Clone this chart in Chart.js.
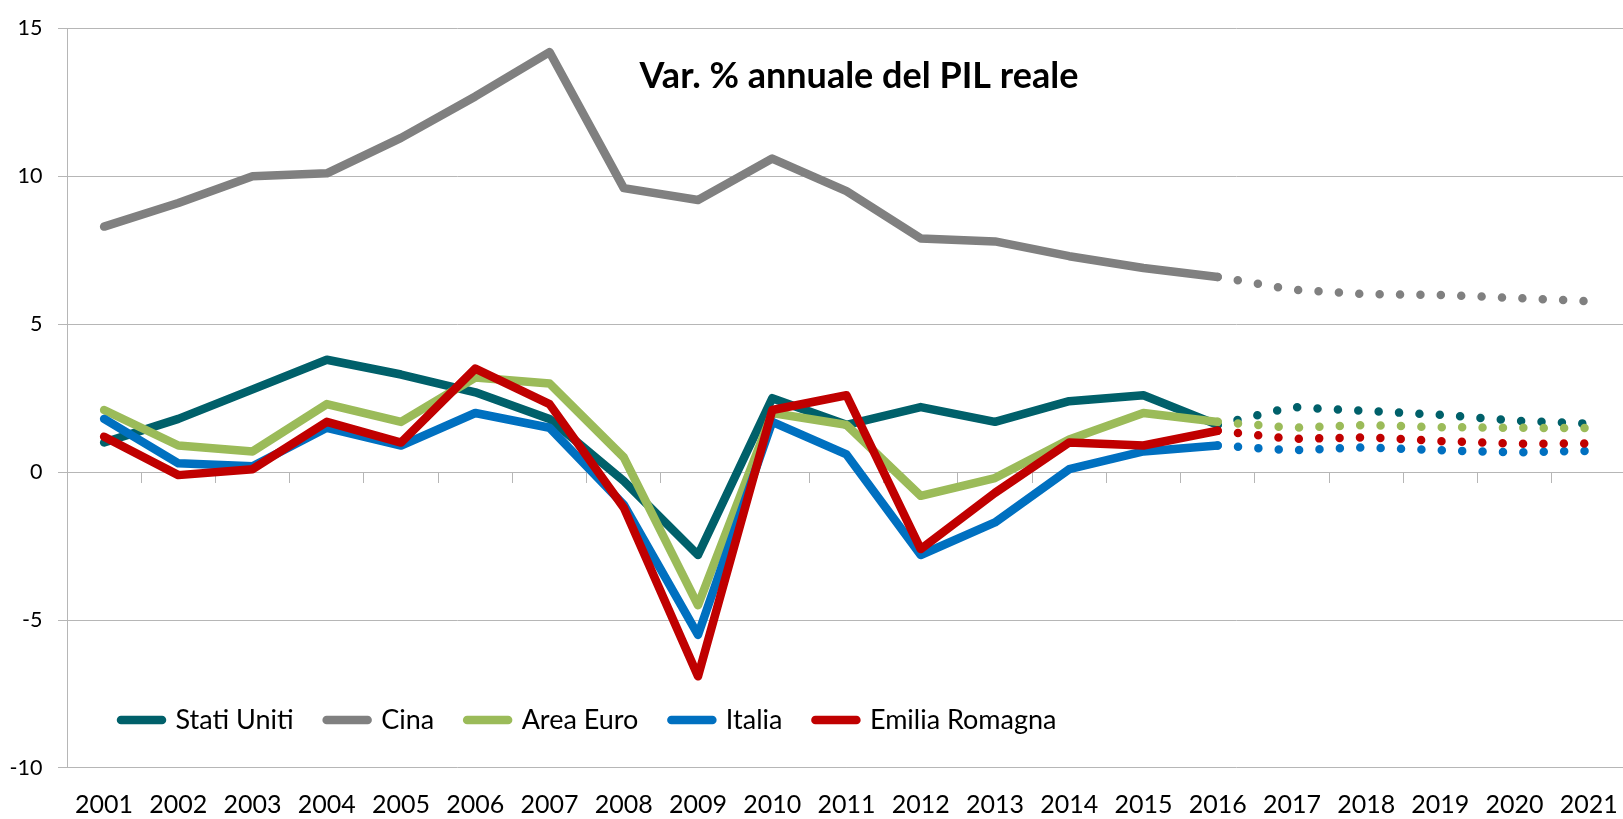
<!DOCTYPE html>
<html>
<head>
<meta charset="utf-8">
<script src="https://cdn.jsdelivr.net/npm/chart.js@4.4.0/dist/chart.umd.min.js"></script>
<style>
  html, body { margin: 0; padding: 0; overflow: hidden; background: #ffffff; }
  canvas { display: block; }
</style>
</head>
<body>
<canvas id="chart" width="1640" height="819"></canvas>
<script>
// ---- data ----
const years = ['2001','2002','2003','2004','2005','2006','2007','2008','2009','2010','2011',
               '2012','2013','2014','2015','2016','2017','2018','2019','2020','2021'];
const statiUniti    = [1.0, 1.8, 2.8, 3.8, 3.3, 2.7, 1.8, -0.3, -2.8, 2.5, 1.6, 2.2, 1.7, 2.4, 2.6, 1.6, 2.2, 2.07, 1.94, 1.74, 1.64];
const cina          = [8.3, 9.1, 10.0, 10.1, 11.3, 12.7, 14.2, 9.6, 9.2, 10.6, 9.5, 7.9, 7.8, 7.3, 6.9, 6.6, 6.17, 6.02, 5.99, 5.89, 5.78];
const areaEuro      = [2.1, 0.9, 0.7, 2.3, 1.7, 3.2, 3.0, 0.5, -4.5, 2.0, 1.6, -0.8, -0.2, 1.1, 2.0, 1.7, 1.5, 1.59, 1.52, 1.5, 1.49];
const italia        = [1.8, 0.3, 0.2, 1.5, 0.9, 2.0, 1.5, -1.1, -5.5, 1.7, 0.6, -2.8, -1.7, 0.1, 0.7, 0.9, 0.74, 0.84, 0.74, 0.67, 0.72];
const emiliaRomagna = [1.2, -0.1, 0.1, 1.7, 1.0, 3.5, 2.3, -1.2, -6.9, 2.1, 2.6, -2.6, -0.7, 1.0, 0.9, 1.4, 1.12, 1.18, 1.05, 0.96, 0.97];
const seriesNames   = ['Stati Uniti', 'Cina', 'Area Euro', 'Italia', 'Emilia Romagna'];
const seriesValues  = [statiUniti, cina, areaEuro, italia, emiliaRomagna];
const seriesColors  = ['#00606A', '#808080', '#9BBB59', '#0070C0', '#C00000'];
const forecastFrom  = 15; // index of 2016: segments after it are forecasts (dotted)
const yMin = -10, yMax = 15, yStep = 5;
const titleText = 'Var. % annuale del PIL reale';

// ---- styling ----
const FONT = 'Lato';
const gridColor = '#b6b6b6';
const LINE_W = 8.5;
const LEGEND_SIZE = 27;

const datasets = seriesValues.map((vals, i) => ({
  label: seriesNames[i],
  data: vals,
  borderColor: seriesColors[i],
  backgroundColor: seriesColors[i],
  borderWidth: LINE_W,
  borderCapStyle: 'round',
  borderJoinStyle: 'round',
  pointRadius: 0,
  pointHoverRadius: 0,
  tension: 0,
  order: seriesValues.length - i,
  segment: {
    borderDash: ctx => ctx.p0DataIndex >= forecastFrom ? [0, 20.4] : undefined
  }
}));

const placeBlocks = {
  id: 'placeBlocks',
  beforeDraw(chart, args, opts) {
    const lg = chart.legend;
    if (lg) {
      lg.left = opts.legendLeft;
      lg.right = chart.width;
      lg.top = opts.legendTop;
      lg.bottom = opts.legendTop + 90;
      lg.width = lg.right - lg.left;
      lg.height = 90;
    }
    const t = chart.titleBlock;
    if (t) {
      const w = 700;
      t.left = opts.titleCenter - w / 2;
      t.right = opts.titleCenter + w / 2;
      t.width = w;
    }
  }
};

new Chart(document.getElementById('chart'), {
  type: 'line',
  data: { labels: years, datasets },
  plugins: [placeBlocks],
  options: {
    responsive: false,
    animation: false,
    events: [],
    layout: { padding: { top: 22, right: 6.4, bottom: 0, left: 0 } },
    plugins: {
      placeBlocks: { legendLeft: 88, legendTop: 673.5, titleCenter: 859 },
      tooltip: { enabled: false },
      title: {
        display: true,
        text: titleText,
        color: '#000000',
        font: { family: FONT, size: 36, weight: 'bold', lineHeight: 1.2 },
        padding: { top: 25.9, bottom: -69.1 }
      },
      legend: {
        display: true,
        position: 'bottom',
        align: 'start',
        maxHeight: 0.001,
        labels: {
          usePointStyle: true,
          pointStyle: 'line',
          pointStyleWidth: 41,
          padding: 33,
          color: '#000000',
          font: { family: FONT, size: LEGEND_SIZE },
          generateLabels(chart) {
            return chart.data.datasets.map((ds, i) => ({
              text: ds.label,
              fillStyle: ds.borderColor,
              strokeStyle: ds.borderColor,
              fontColor: '#000000',
              lineWidth: LINE_W,
              lineCap: 'round',
              lineJoin: 'round',
              pointStyle: 'line',
              hidden: false,
              datasetIndex: i
            }));
          }
        }
      }
    },
    scales: {
      x: {
        type: 'category',
        position: 'bottom',
        offset: true,
        grid: { display: false, drawTicks: false },
        border: { display: false },
        ticks: {
          color: '#000000',
          font: { family: FONT, size: 25 },
          padding: 22,
          maxRotation: 0,
          autoSkip: false
        },
        afterFit(scale) { scale.height = 51; }
      },
      x2: {
        type: 'category',
        axis: 'x',
        position: { y: 0 },
        offset: true,
        grid: { offset: true, drawOnChartArea: false, drawTicks: true, tickLength: 10, color: gridColor, lineWidth: 1 },
        border: { display: true, color: gridColor, width: 1 },
        ticks: { display: false }
      },
      y: {
        min: yMin,
        max: yMax,
        position: 'left',
        grid: { color: gridColor, lineWidth: 1, drawTicks: true, tickLength: 9 },
        border: { display: true, color: gridColor, width: 1 },
        ticks: {
          stepSize: yStep,
          color: '#000000',
          font: { family: FONT, size: 21.5 },
          padding: 15.5
        },
        afterFit(scale) { scale.width = 67; }
      }
    }
  }
});
</script>
</body>
</html>
